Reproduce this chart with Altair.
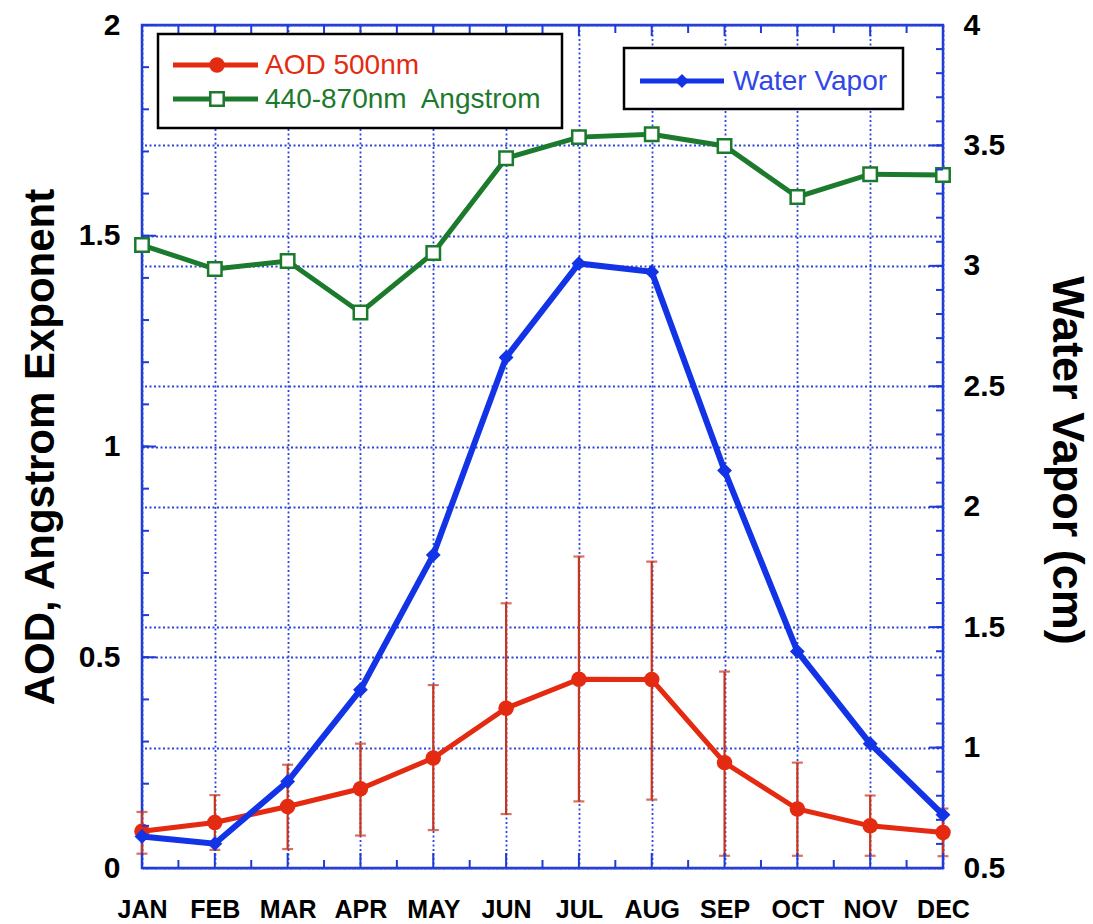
import json

import altair as alt
import numpy as np
import pandas as pd

# Monthly climatology: AOD at 500 nm (with spread), 440-870 nm Angstrom exponent,
# and precipitable water vapor.
months = ["JAN", "FEB", "MAR", "APR", "MAY", "JUN",
          "JUL", "AUG", "SEP", "OCT", "NOV", "DEC"]
aod_500 = [0.087, 0.108, 0.146, 0.188, 0.261, 0.379,
           0.448, 0.447, 0.250, 0.140, 0.100, 0.084]
aod_upper = [0.133, 0.173, 0.245, 0.295, 0.434, 0.628,
             0.739, 0.727, 0.466, 0.250, 0.172, 0.141]
aod_lower = [0.034, 0.043, 0.045, 0.077, 0.090, 0.128,
             0.158, 0.162, 0.029, 0.029, 0.029, 0.028]
angstrom_440_870 = [1.478, 1.421, 1.440, 1.318, 1.459, 1.684,
                    1.734, 1.741, 1.713, 1.592, 1.646, 1.644]
water_vapor = [0.631, 0.601, 0.859, 1.240, 1.800, 2.620,
               3.010, 2.975, 2.150, 1.399, 1.016, 0.721]

left_labels = [0, 0.5, 1, 1.5, 2]
right_labels = [0.5, 1, 1.5, 2, 2.5, 3, 3.5, 4]

W, H = 801, 843
FONT = "Liberation Sans"
FRAME = "#1f3bd6"
GRID = "#2a44dc"
RED = "#e42a10"
ERR = "#c8341e"
GREEN = "#1c7a2c"
BLUE = "#1233e6"

df = pd.DataFrame({
    "idx": list(range(len(months))),
    "month": months,
    "aod": aod_500,
    "hi": aod_upper,
    "lo": aod_lower,
    "ang": angstrom_440_870,
    "wv": water_vapor,
})

x_scale = alt.Scale(domain=[0, 11], nice=False, zero=False)
left_scale = alt.Scale(domain=[0, 2], nice=False, zero=False)
right_scale = alt.Scale(domain=[0.5, 4], nice=False, zero=False)

grid_style = dict(grid=True, gridColor=GRID, gridDash=[2, 2.5], gridWidth=1.8, gridOpacity=1)
label_style = dict(labelFont=FONT, labelFontWeight="bold", labelColor="black",
                   ticks=False, tickSize=0, domain=False, labelOverlap=False)

# every layer on a shared scale carries the same axis definition, so they merge cleanly
x_axis = alt.Axis(values=list(range(12)), labelExpr=f"{json.dumps(months)}[datum.value]",
                  labelFontSize=25, labelPadding=29, labelFlush=False, title=None,
                  **label_style, **grid_style)
left_axis = alt.Axis(values=left_labels, format="~g", labelFontSize=30, labelPadding=22,
                     title="AOD, Angstrom Exponent", titleFont=FONT, titleFontSize=42,
                     titleFontWeight="bold", titleColor="black", titlePadding=16,
                     **label_style, **grid_style)
right_axis = alt.Axis(values=right_labels, format="~g", orient="right", labelFontSize=30,
                      labelPadding=20, title="Water Vapor (cm)", titleFont=FONT,
                      titleFontSize=45, titleFontWeight="bold", titleColor="black",
                      titlePadding=39, titleY=435, **label_style, **grid_style)


def X(field):
    return alt.X(field, scale=x_scale, axis=x_axis)


def YL(field):
    return alt.Y(field, scale=left_scale, axis=left_axis)


def YR(field):
    return alt.Y(field, scale=right_scale, axis=right_axis)


base = alt.Chart(df)

# --- left-axis series -------------------------------------------------------
err_lines = base.mark_rule(color=ERR, strokeWidth=2.2).encode(
    x=X("idx:Q"), y=YL("lo:Q"), y2="hi:Q")
err_caps_hi = base.mark_tick(color=ERR, orient="horizontal", size=11, thickness=2.2).encode(
    x=X("idx:Q"), y=YL("hi:Q"))
err_caps_lo = base.mark_tick(color=ERR, orient="horizontal", size=11, thickness=2.2).encode(
    x=X("idx:Q"), y=YL("lo:Q"))
aod_line = base.mark_line(color=RED, strokeWidth=5).encode(x=X("idx:Q"), y=YL("aod:Q"))
aod_pts = base.mark_point(shape="circle", filled=True, color=RED, size=240, opacity=1).encode(
    x=X("idx:Q"), y=YL("aod:Q"))
ang_line = base.mark_line(color=GREEN, strokeWidth=5).encode(x=X("idx:Q"), y=YL("ang:Q"))
ang_pts = base.mark_point(shape="square", filled=True, fill="white", stroke=GREEN,
                          strokeWidth=2.5, size=180, opacity=1).encode(
    x=X("idx:Q"), y=YL("ang:Q"))

# inward tick marks on the frame
left_minor = pd.DataFrame({"v": np.round(np.arange(0, 2.0001, 0.1), 2)})
left_major = pd.DataFrame({"v": left_labels})
right_minor = pd.DataFrame({"v": np.round(np.arange(0.5, 4.0001, 0.1), 2)})
right_major = pd.DataFrame({"v": right_labels})
x_major = pd.DataFrame({"v": list(range(12))})
x_minor = pd.DataFrame({"v": [i + 0.5 for i in range(11)]})

tick = dict(color=FRAME, strokeWidth=2)
lt_minor = alt.Chart(left_minor).mark_rule(**tick).encode(
    y=YL("v:Q"), x=alt.value(0), x2=alt.value(7))
lt_major = alt.Chart(left_major).mark_rule(**tick).encode(
    y=YL("v:Q"), x=alt.value(0), x2=alt.value(14))
bt_major = alt.Chart(x_major).mark_rule(**tick).encode(
    x=X("v:Q"), y=alt.value(H), y2=alt.value(H - 15))
bt_minor = alt.Chart(x_minor).mark_rule(**tick).encode(
    x=X("v:Q"), y=alt.value(H), y2=alt.value(H - 8))
tp_major = alt.Chart(x_major).mark_rule(**tick).encode(
    x=X("v:Q"), y=alt.value(0), y2=alt.value(11))
tp_minor = alt.Chart(x_minor).mark_rule(**tick).encode(
    x=X("v:Q"), y=alt.value(0), y2=alt.value(8))

left_layer = alt.layer(err_lines, err_caps_hi, err_caps_lo, aod_line, aod_pts,
                       ang_line, ang_pts, lt_minor, lt_major,
                       bt_major, bt_minor, tp_major, tp_minor)

# --- right-axis series ------------------------------------------------------
wv_line = base.mark_line(color=BLUE, strokeWidth=6).encode(x=X("idx:Q"), y=YR("wv:Q"))
wv_pts = base.mark_point(shape="diamond", filled=True, color=BLUE, size=220, opacity=1).encode(
    x=X("idx:Q"), y=YR("wv:Q"))
rt_minor = alt.Chart(right_minor).mark_rule(**tick).encode(
    y=YR("v:Q"), x=alt.value(W), x2=alt.value(W - 7))
rt_major = alt.Chart(right_major).mark_rule(**tick).encode(
    y=YR("v:Q"), x=alt.value(W), x2=alt.value(W - 14))

right_layer = alt.layer(wv_line, wv_pts, rt_minor, rt_major)

# --- legend boxes -----------------------------------------------------------
one = alt.Chart(pd.DataFrame({"k": [0]}))
box_style = dict(fill="white", stroke="black", strokeWidth=2.5)
legend = alt.layer(
    one.mark_rect(**box_style).encode(x=alt.value(16), x2=alt.value(420),
                                      y=alt.value(9), y2=alt.value(103)),
    one.mark_rule(color=RED, strokeWidth=5).encode(x=alt.value(31), x2=alt.value(116),
                                                   y=alt.value(40)),
    one.mark_point(shape="circle", filled=True, color=RED, size=240, opacity=1).encode(
        x=alt.value(75), y=alt.value(40)),
    one.mark_text(font=FONT, fontSize=28, color=RED, align="left", baseline="middle").encode(
        x=alt.value(123), y=alt.value(41), text=alt.value("AOD 500nm")),
    one.mark_rule(color=GREEN, strokeWidth=5).encode(x=alt.value(31), x2=alt.value(116),
                                                     y=alt.value(74)),
    one.mark_point(shape="square", filled=True, fill="white", stroke=GREEN, strokeWidth=2.5,
                   size=180, opacity=1).encode(x=alt.value(75), y=alt.value(74)),
    one.mark_text(font=FONT, fontSize=28, color=GREEN, align="left", baseline="middle").encode(
        x=alt.value(123), y=alt.value(75), text=alt.value("440-870nm\u00a0 Angstrom")),
    one.mark_rect(**box_style).encode(x=alt.value(482), x2=alt.value(761),
                                      y=alt.value(23), y2=alt.value(84)),
    one.mark_rule(color=BLUE, strokeWidth=5).encode(x=alt.value(498), x2=alt.value(582),
                                                    y=alt.value(56)),
    one.mark_point(shape="diamond", filled=True, color=BLUE, size=200, opacity=1).encode(
        x=alt.value(540), y=alt.value(56)),
    one.mark_text(font=FONT, fontSize=28, color="#3046e6", align="left", baseline="middle").encode(
        x=alt.value(591), y=alt.value(57), text=alt.value("Water Vapor")),
)

chart = (
    alt.layer(left_layer, right_layer, legend)
    .resolve_scale(y="independent")
    .properties(
        width=W, height=H,
        autosize=alt.AutoSizeParams(type="none"),
        padding={"left": 142, "top": 25, "right": 150, "bottom": 56},
        background="white",
    )
    .configure_view(stroke=FRAME, strokeWidth=2.5)
)

chart.save("out.html", embed_options={"renderer": "svg", "actions": False})
